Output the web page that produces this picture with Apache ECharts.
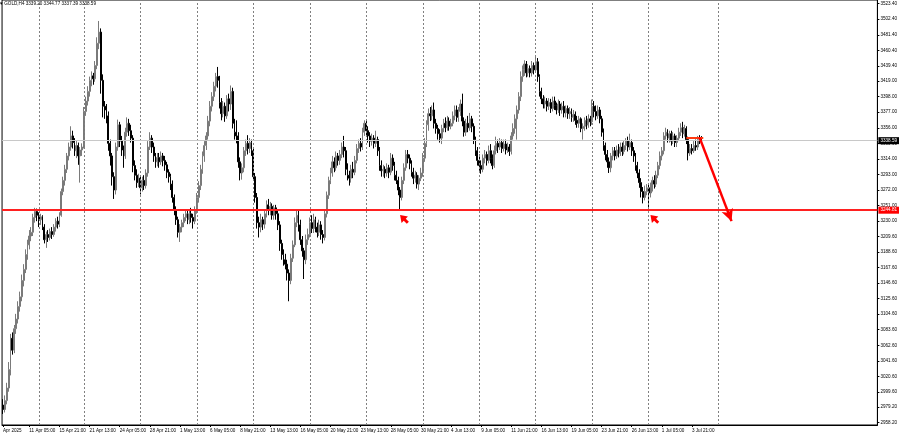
<!DOCTYPE html>
<html>
<head>
<meta charset="utf-8">
<script src="https://cdn.jsdelivr.net/npm/echarts@6/dist/echarts.min.js"></script>
<style>html,body{margin:0;padding:0;background:#fff;}#c{width:900px;height:437px;}</style>
</head>
<body>
<div id="c"></div>
<script>
// ---- data: GOLD H4 candles [open, close, low, high], one array per trading week ----
const wkApr08 = [[2982,2976,2970,2990],[2976,2988,2972,2995],[2988,3005,2983,3012],[3005,3030,3000,3040],[3030,3072,3022,3078],[3072,3056,3050,3080],[3056,3085,3052,3090],[3085,3098,3078,3105],[3098,3115,3092,3122],[3115,3128,3108,3135],[3128,3150,3122,3158],[3150,3165,3142,3172],[3165,3185,3160,3192],[3185,3198,3178,3205],[3198,3210,3192,3218],[3210,3215,3203,3222],[3215,3235,3210,3240],[3235,3243,3228,3248],[3243,3238,3230,3247]];
const wkApr14 = [[3238,3232,3222,3242],[3232,3236,3225,3240],[3236,3222,3218,3238],[3222,3205,3200,3226],[3205,3212,3194,3216],[3212,3208,3202,3218],[3208,3216,3204,3220],[3216,3212,3206,3222],[3212,3222,3209,3226],[3222,3230,3216,3234],[3230,3226,3220,3236],[3226,3238,3222,3242],[3238,3270,3236,3274],[3270,3285,3265,3290],[3285,3300,3278,3306],[3300,3318,3295,3322],[3318,3330,3312,3336],[3330,3345,3325,3358],[3345,3336,3328,3352],[3336,3325,3318,3342],[3325,3332,3315,3338],[3332,3318,3306,3336],[3318,3326,3282,3330],[3326,3330,3318,3335]];
const wkApr21 = [[3330,3378,3328,3384],[3378,3392,3372,3398],[3392,3405,3386,3412],[3405,3420,3398,3425],[3420,3426,3412,3432],[3426,3422,3414,3430],[3422,3440,3418,3446],[3440,3470,3435,3478],[3470,3485,3462,3500],[3485,3420,3402,3490],[3420,3385,3370,3428],[3385,3380,3368,3392],[3380,3372,3362,3388],[3372,3335,3325,3378],[3335,3318,3305,3340],[3318,3290,3278,3322],[3290,3272,3260,3296],[3272,3330,3266,3336],[3330,3360,3325,3367],[3360,3338,3330,3364],[3338,3326,3318,3345],[3326,3318,3302,3332],[3318,3350,3314,3356],[3350,3362,3344,3370],[3362,3352,3345,3368],[3352,3342,3336,3360],[3342,3305,3296,3346],[3305,3292,3285,3312],[3292,3282,3275,3300],[3282,3288,3276,3294]];
const wkApr28 = [[3288,3275,3266,3292],[3275,3285,3270,3290],[3285,3278,3272,3292],[3278,3295,3274,3300],[3295,3330,3290,3338],[3330,3342,3326,3350],[3342,3330,3322,3346],[3330,3318,3310,3336],[3318,3310,3302,3322],[3310,3316,3304,3322],[3316,3310,3302,3322],[3310,3318,3306,3324],[3318,3312,3304,3322],[3312,3306,3298,3318],[3306,3296,3288,3310],[3296,3290,3282,3300],[3290,3280,3272,3294],[3280,3262,3255,3285],[3262,3245,3238,3266],[3245,3232,3225,3250],[3232,3215,3208,3236],[3215,3222,3202,3226],[3222,3228,3215,3232],[3228,3235,3222,3240],[3235,3240,3230,3244],[3240,3232,3226,3246],[3232,3240,3226,3244],[3240,3235,3228,3248],[3235,3230,3220,3240],[3230,3245,3226,3250]];
const wkMay05 = [[3245,3262,3240,3268],[3262,3278,3255,3284],[3278,3300,3272,3306],[3300,3318,3294,3324],[3318,3332,3310,3338],[3332,3345,3326,3350],[3345,3365,3340,3372],[3365,3385,3358,3392],[3385,3398,3378,3404],[3398,3412,3392,3418],[3412,3425,3405,3430],[3425,3420,3410,3438],[3420,3390,3382,3426],[3390,3375,3366,3396],[3375,3385,3370,3392],[3385,3372,3364,3390],[3372,3395,3368,3400],[3395,3388,3378,3402],[3388,3405,3380,3413],[3405,3362,3355,3410],[3362,3350,3340,3368],[3350,3345,3335,3366],[3345,3310,3302,3350],[3310,3295,3285,3316],[3295,3302,3286,3308],[3302,3325,3296,3330],[3325,3335,3318,3340],[3335,3328,3320,3346],[3328,3336,3322,3342],[3336,3325,3318,3340]];
const wkMay12 = [[3325,3290,3285,3328],[3290,3262,3255,3295],[3262,3228,3220,3268],[3228,3222,3208,3236],[3222,3232,3215,3240],[3232,3226,3218,3236],[3226,3240,3220,3246],[3240,3252,3235,3258],[3252,3245,3238,3260],[3245,3250,3238,3256],[3250,3238,3232,3254],[3238,3248,3232,3252],[3248,3240,3232,3252],[3240,3225,3218,3244],[3225,3200,3190,3230],[3200,3185,3178,3205],[3185,3178,3170,3192],[3178,3172,3165,3186],[3172,3160,3150,3178],[3160,3150,3122,3165],[3150,3180,3145,3186],[3180,3198,3175,3204],[3198,3228,3195,3235],[3228,3238,3222,3245],[3238,3225,3216,3244],[3225,3205,3198,3232],[3205,3190,3182,3210],[3190,3178,3152,3194],[3178,3205,3172,3212],[3205,3212,3198,3220]];
const wkMay19 = [[3212,3228,3208,3235],[3228,3220,3214,3238],[3220,3232,3214,3240],[3232,3222,3215,3236],[3222,3215,3208,3228],[3215,3225,3210,3232],[3225,3212,3205,3230],[3212,3208,3200,3218],[3208,3240,3204,3245],[3240,3265,3235,3270],[3265,3285,3260,3290],[3285,3295,3280,3302],[3295,3310,3290,3318],[3310,3302,3296,3316],[3302,3318,3298,3324],[3318,3312,3305,3322],[3312,3320,3306,3326],[3320,3330,3315,3336],[3330,3325,3316,3345],[3325,3300,3292,3330],[3300,3292,3285,3308],[3292,3288,3278,3298],[3288,3300,3282,3306],[3300,3296,3288,3310],[3296,3312,3292,3318],[3312,3328,3308,3334],[3328,3335,3322,3340],[3335,3330,3324,3342],[3330,3350,3326,3356],[3350,3362,3345,3366]];
const wkMay26 = [[3362,3352,3345,3365],[3352,3345,3336,3358],[3345,3338,3330,3350],[3338,3342,3332,3348],[3342,3335,3328,3346],[3335,3340,3330,3352],[3340,3325,3318,3344],[3325,3305,3298,3330],[3305,3298,3290,3312],[3298,3300,3290,3306],[3300,3295,3288,3304],[3295,3302,3290,3308],[3302,3296,3288,3306],[3296,3315,3292,3322],[3315,3305,3298,3320],[3305,3292,3285,3310],[3292,3285,3280,3298],[3285,3272,3265,3290],[3272,3262,3245,3276],[3262,3285,3258,3290],[3285,3302,3280,3308],[3302,3320,3298,3326],[3320,3315,3308,3326],[3315,3308,3300,3320],[3308,3296,3290,3312],[3296,3288,3280,3302],[3288,3292,3282,3298],[3292,3280,3274,3296],[3280,3288,3272,3292],[3288,3295,3284,3302]];
const wkJun02 = [[3295,3315,3290,3322],[3315,3335,3310,3342],[3335,3360,3330,3366],[3360,3375,3352,3382],[3375,3372,3365,3384],[3372,3380,3366,3386],[3380,3362,3355,3390],[3362,3355,3348,3368],[3355,3348,3340,3360],[3348,3342,3336,3354],[3342,3355,3334,3360],[3355,3362,3350,3368],[3362,3356,3350,3370],[3356,3365,3352,3372],[3365,3358,3352,3370],[3358,3362,3354,3368],[3362,3372,3358,3378],[3372,3380,3366,3386],[3380,3370,3364,3386],[3370,3378,3364,3384],[3378,3388,3372,3394],[3388,3365,3358,3402],[3365,3350,3344,3370],[3350,3362,3345,3368],[3362,3356,3350,3372],[3356,3368,3352,3376],[3368,3358,3350,3372],[3358,3340,3334,3362],[3340,3325,3318,3344],[3325,3312,3305,3330]];
const wkJun09 = [[3312,3305,3298,3320],[3305,3300,3294,3312],[3300,3315,3296,3320],[3315,3320,3308,3326],[3320,3312,3305,3324],[3312,3325,3308,3332],[3325,3315,3308,3334],[3315,3305,3300,3320],[3305,3325,3302,3332],[3325,3335,3320,3344],[3335,3330,3322,3340],[3330,3336,3326,3342],[3336,3328,3322,3340],[3328,3334,3324,3340],[3334,3326,3320,3340],[3326,3330,3322,3336],[3330,3324,3318,3334],[3324,3345,3320,3350],[3345,3355,3340,3362],[3355,3368,3348,3374],[3368,3380,3340,3386],[3380,3398,3375,3404],[3398,3425,3392,3432],[3425,3435,3418,3440],[3435,3442,3426,3447],[3442,3430,3424,3446],[3430,3436,3425,3442],[3436,3430,3424,3440],[3430,3440,3425,3446],[3440,3434,3428,3444]];
const wkJun16 = [[3434,3445,3430,3452],[3445,3425,3418,3450],[3425,3405,3398,3428],[3405,3395,3388,3410],[3395,3388,3382,3400],[3388,3392,3382,3398],[3392,3385,3378,3396],[3385,3390,3380,3396],[3390,3382,3376,3395],[3382,3392,3378,3398],[3392,3386,3380,3398],[3386,3380,3374,3390],[3380,3388,3376,3394],[3388,3380,3372,3392],[3380,3385,3375,3390],[3385,3376,3370,3392],[3376,3382,3370,3386],[3382,3375,3368,3386],[3375,3378,3368,3384],[3378,3370,3364,3382],[3370,3374,3364,3380],[3374,3366,3360,3378],[3366,3362,3356,3372],[3362,3368,3356,3372],[3368,3355,3350,3370],[3355,3358,3340,3362],[3358,3366,3352,3370],[3366,3360,3354,3372],[3360,3368,3356,3374],[3368,3364,3358,3372]];
const wkJun23 = [[3364,3385,3360,3394],[3385,3378,3370,3392],[3378,3372,3366,3386],[3372,3380,3368,3386],[3380,3368,3362,3384],[3368,3350,3344,3372],[3350,3332,3325,3355],[3332,3320,3312,3336],[3320,3310,3302,3326],[3310,3302,3295,3316],[3302,3318,3296,3322],[3318,3325,3312,3330],[3325,3318,3312,3330],[3318,3326,3314,3332],[3326,3322,3316,3334],[3322,3330,3318,3336],[3330,3324,3318,3336],[3324,3332,3320,3338],[3332,3338,3326,3342],[3338,3330,3324,3344],[3330,3336,3326,3348],[3336,3325,3318,3340],[3325,3318,3310,3330],[3318,3305,3298,3322],[3305,3295,3288,3310],[3295,3282,3275,3300],[3282,3270,3262,3288],[3270,3262,3254,3276],[3262,3270,3258,3278],[3270,3275,3265,3280]];
const wkJun30 = [[3275,3268,3247,3280],[3268,3276,3262,3282],[3276,3285,3270,3290],[3285,3280,3274,3292],[3280,3292,3276,3298],[3292,3305,3288,3310],[3305,3318,3300,3324],[3318,3325,3312,3330],[3325,3345,3320,3350],[3345,3350,3340,3356],[3350,3342,3336,3354],[3342,3348,3336,3352],[3348,3338,3332,3352],[3338,3345,3334,3350],[3345,3336,3330,3348],[3336,3342,3330,3346],[3342,3350,3338,3356],[3350,3356,3345,3362],[3356,3348,3342,3364],[3348,3355,3344,3360],[3355,3340,3334,3358],[3340,3322,3312,3344],[3322,3328,3318,3334],[3328,3325,3320,3334],[3325,3332,3322,3338],[3332,3330,3325,3340],[3330,3340,3326,3345],[3340,3339.2,3334,3346],[3339.2,3338.59,3337.39,3344.77]];

const symbolName = 'GOLD';
const timeframe = 'H4';
const totalSlots = 465;            // bar slots across the plot incl. empty right margin
const timeLabels = ['Apr 2025','11 Apr 05:00','15 Apr 21:00','21 Apr 13:00','24 Apr 05:00','28 Apr 21:00','1 May 13:00','6 May 05:00','8 May 21:00','13 May 13:00','16 May 05:00','20 May 21:00','23 May 13:00','28 May 05:00','30 May 21:00','4 Jun 13:00','9 Jun 05:00','11 Jun 21:00','16 Jun 13:00','19 Jun 05:00','23 Jun 21:00','26 Jun 13:00','1 Jul 05:00','3 Jul 21:00'];
const timeLabelSlots = [0,14,30,46,62,78,94,110,126,142,158,174,190,206,222,238,254,270,286,302,318,334,350,366];
const weekStartSlots = [19,43,73,103,133,163,193,223,253,283,313,343,380];
const priceTicks = [2958.2,2979.2,2999.6,3020.6,3041.6,3062.6,3083.6,3104.6,3125.6,3146.6,3167.6,3188.6,3209.6,3230.0,3251.0,3272.0,3293.0,3314.0,3335.0,3356.0,3377.0,3398.0,3419.0,3439.4,3460.4,3481.4,3502.4,3523.4];
const supportLevel = 3244.81;
const shortLine = [[363, 3343], [372, 3343]];
const forecastArrow = [[370, 3343], [387, 3230]];
const lowMarkers = [[213, 3233], [346, 3233]];

// ---- build ----
const candles = [].concat(wkApr08, wkApr14, wkApr21, wkApr28, wkMay05, wkMay12, wkMay19, wkMay26, wkJun02, wkJun09, wkJun16, wkJun23, wkJun30);
const categories = Array.from({length: totalSlots}, (_, i) => String(i));
const last = candles[candles.length - 1];
const labelMap = {};
timeLabelSlots.forEach((s, k) => { labelMap[s] = timeLabels[k]; });
const FONT = 'Liberation Sans';
const FS = 4.6;

const chart = echarts.init(document.getElementById('c'), null, {renderer: 'canvas'});
chart.setOption({
  animation: false,
  backgroundColor: '#ffffff',
  title: {
    text: '\u25BE ' + symbolName + ',' + timeframe + ' ' + last[0].toFixed(2) + ' ' + last[3].toFixed(2) + ' ' + last[2].toFixed(2) + ' ' + last[1].toFixed(2),
    left: 0, top: 1, padding: 0,
    textStyle: {fontSize: FS, fontWeight: 'normal', color: '#000', fontFamily: FONT}
  },
  grid: {left: 0, right: 19, top: 0, bottom: 12, containLabel: false, show: true, borderColor: '#000', borderWidth: 1},
  xAxis: {
    type: 'category', data: categories, boundaryGap: true,
    axisLine: {show: true, lineStyle: {color: '#000', width: 1}},
    axisTick: {show: true, alignWithLabel: true, length: 2, interval: (i) => labelMap[i] !== undefined, lineStyle: {color: '#000'}},
    axisLabel: {show: true, interval: (i) => labelMap[i] !== undefined, formatter: (v, i) => labelMap[i] || '', align: 'left', margin: 3, fontSize: FS, color: '#000', fontFamily: FONT},
    splitLine: {show: false}
  },
  yAxis: {
    type: 'value', position: 'right', min: 2955.1, max: 3528.3, scale: true,
    axisLine: {show: true, lineStyle: {color: '#000', width: 1}},
    axisTick: {show: true, length: 2, customValues: priceTicks, lineStyle: {color: '#000'}},
    axisLabel: {show: true, customValues: priceTicks, formatter: (v) => v.toFixed(2), margin: 3, fontSize: FS, color: '#000', fontFamily: FONT},
    splitLine: {show: false}
  },
  series: [{
    type: 'candlestick',
    data: candles,
    barWidth: 1.4,
    itemStyle: {color: '#d8d8d8', color0: '#000000', borderColor: '#7a7a7a', borderColor0: '#000000', borderWidth: 1},
    markLine: {
      silent: true, symbol: 'none', animation: false,
      label: {show: false},
      data: [
        ...weekStartSlots.map(s => ({xAxis: s, lineStyle: {color: '#808080', width: 1, type: [2, 2]}, label: {show: false}})),
        {yAxis: last[1], lineStyle: {color: '#c8c8c8', width: 1, type: 'solid'},
          label: {show: true, position: 'end', distance: 1, formatter: last[1].toFixed(2), backgroundColor: '#000', color: '#fff', fontSize: FS, fontFamily: FONT, padding: [1, 2, 1, 2]}},
        {yAxis: supportLevel, lineStyle: {color: '#ff2020', width: 2, type: 'solid'},
          label: {show: true, position: 'end', distance: 1, formatter: supportLevel.toFixed(2), backgroundColor: '#ff0000', color: '#fff', fontSize: FS, fontFamily: FONT, padding: [1, 2, 1, 2]}},
        [{coord: shortLine[0], lineStyle: {color: '#ff3a10', width: 2, type: 'solid'}}, {coord: shortLine[1]}],
        [{coord: forecastArrow[0], symbol: 'none', lineStyle: {color: '#ff0000', width: 2.5, type: 'solid'}}, {coord: forecastArrow[1], symbol: 'arrow', symbolSize: [9, 12]}]
      ]
    },
    markPoint: {
      silent: true, animation: false,
      symbol: 'path://M5,0 L10,6 L6.6,6 L6.6,10 L3.4,10 L3.4,6 L0,6 Z',
      symbolSize: [9, 11], symbolRotate: 45,
      itemStyle: {color: '#ff0000'},
      label: {show: false},
      data: lowMarkers.map(p => ({coord: p}))
    }
  }]
});
</script>
</body>
</html>
